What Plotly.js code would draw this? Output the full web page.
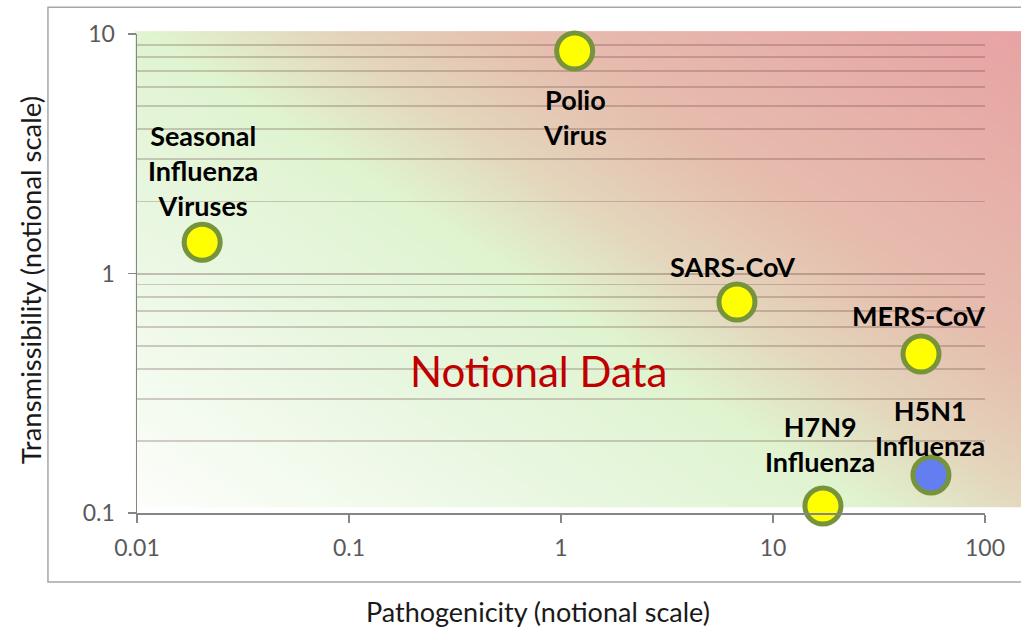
<!DOCTYPE html>
<html>
<head>
<meta charset="utf-8">
<script src="https://cdn.plot.ly/plotly-3.0.1.min.js"></script>
<style>html,body{margin:0;padding:0;background:#fff;}#chart{width:1021px;height:630px;}</style>
</head>
<body>
<div id="chart"></div>
<script>
// Data
var virusNames = ["Seasonal<br>Influenza<br>Viruses", "Polio<br>Virus", "SARS-CoV", "MERS-CoV", "H7N9<br>Influenza", "H5N1<br>Influenza"];
var pathogenicity = [0.0203, 1.16, 6.76, 49.9, 17.2, 55.6];
var transmissibility = [1.35, 8.49, 0.76, 0.461, 0.107, 0.144];
var xTickVals = [0.01, 0.1, 1, 10, 100];
var xTickText = ["0.01", "0.1", "1", "10", "100"];
var yTickVals = [0.1, 1, 10];
var yTickText = ["0.1", "1", "10"];
var yMinorVals = [0.2,0.3,0.4,0.5,0.6,0.7,0.8,0.9,2,3,4,5,6,7,8,9];
var xTitle = "Pathogenicity (notional scale)";
var yTitle = "Transmissibility (notional scale)";

// Styling (label offsets in px, marker fills)
var labelDX = [1, 0, -4, -3, -3, -1];
var labelDY = [72, -66, 36, 39, 62, 47];
var fillColors = ["#ffff00", "#ffff00", "#ffff00", "#ffff00", "#ffff00", "#627ef0"];

// Background gradient image
function gradientImage() {
  var W = 886, H = 476;
  var c = document.createElement("canvas");
  c.width = W; c.height = H;
  var ctx = c.getContext("2d");
  var L = 882;
  var g = ctx.createLinearGradient(0, H, 0.55 * L, H - 0.83 * L);
  g.addColorStop(0.0, "#fdfefb");
  g.addColorStop(0.28, "#e9f7e1");
  g.addColorStop(0.46, "#e0f4d0");
  g.addColorStop(0.57, "#e4d6bc");
  g.addColorStop(0.7, "#e6bdae");
  g.addColorStop(1.0, "#e8a4a4");
  ctx.fillStyle = g;
  ctx.fillRect(0, 0, W, H);
  return c.toDataURL("image/png");
}

var FONT = "Lato, 'Open Sans', sans-serif";

var trace = {
  type: "scatter",
  mode: "markers",
  x: pathogenicity,
  y: transmissibility,
  text: virusNames,
  marker: {size: 36, color: fillColors, line: {color: "#77933c", width: 5}},
  hoverinfo: "skip",
  cliponaxis: false
};

var annotations = virusNames.map(function (name, i) {
  return {
    text: name, xref: "x", yref: "y",
    x: Math.log10(pathogenicity[i]), y: Math.log10(transmissibility[i]),
    xanchor: "center", yanchor: "middle", showarrow: false,
    xshift: labelDX[i], yshift: labelDY[i],
    font: {family: FONT, size: 27, color: "#000", weight: "bold"}
  };
});
annotations.push({
  text: "Notional Data", xref: "paper", yref: "paper",
  x: 0.473, y: 0.296, xanchor: "center", yanchor: "middle", showarrow: false,
  font: {family: FONT, size: 42, color: "#c00000"}
});
annotations.push({
  text: xTitle, xref: "paper", yref: "paper",
  x: 0.473, y: -0.2046, xanchor: "center", yanchor: "middle", showarrow: false,
  font: {family: FONT, size: 27, color: "#1a1a1a"}
});
annotations.push({
  text: yTitle, xref: "paper", yref: "paper", textangle: -90,
  x: -0.126, y: 0.486, xanchor: "center", yanchor: "middle", showarrow: false,
  font: {family: FONT, size: 27.5, color: "#1a1a1a"}
});

var layout = {
  width: 1021, height: 630,
  margin: {l: 137, r: 36, t: 34, b: 117},
  paper_bgcolor: "#ffffff",
  plot_bgcolor: "rgba(0,0,0,0)",
  showlegend: false,
  font: {family: FONT},
  xaxis: {
    type: "log", range: [-2, 2],
    tickmode: "array", tickvals: xTickVals, ticktext: xTickText,
    ticks: "outside", ticklen: 8, tickwidth: 1.5, tickcolor: "#868686",
    ticklabelstandoff: 6,
    showline: true, linecolor: "#868686", linewidth: 1.5,
    showgrid: false, zeroline: false,
    tickfont: {family: FONT, size: 23, color: "#595959"},
    automargin: false
  },
  yaxis: {
    type: "log", range: [-1, 1],
    tickmode: "array", tickvals: yTickVals, ticktext: yTickText,
    ticks: "outside", ticklen: 8, tickwidth: 1.5, tickcolor: "#868686",
    ticklabelstandoff: 8,
    showline: true, linecolor: "#868686", linewidth: 1.5,
    showgrid: true, gridcolor: "rgba(90,55,55,0.3)", gridwidth: 2,
    minor: {tickmode: "array", tickvals: yMinorVals, ticks: "", showgrid: true, gridcolor: "rgba(90,55,55,0.25)", gridwidth: 1.8},
    zeroline: false,
    tickfont: {family: FONT, size: 23, color: "#595959"},
    automargin: false
  },
  images: [{
    source: gradientImage(),
    xref: "paper", yref: "paper",
    x: -0.0024, y: 1.006, sizex: 1.045, sizey: 0.994,
    xanchor: "left", yanchor: "top", sizing: "stretch", layer: "below"
  }],
  shapes: [{
    type: "rect", xref: "paper", yref: "paper",
    x0: -0.105, x1: 1.06, y0: -0.144, y1: 1.056,
    line: {color: "#a6a6a6", width: 1.5}, fillcolor: "rgba(0,0,0,0)", layer: "below"
  }],
  annotations: annotations
};

Plotly.newPlot("chart", [trace], layout, {displayModeBar: false, staticPlot: true});
</script>
</body>
</html>
